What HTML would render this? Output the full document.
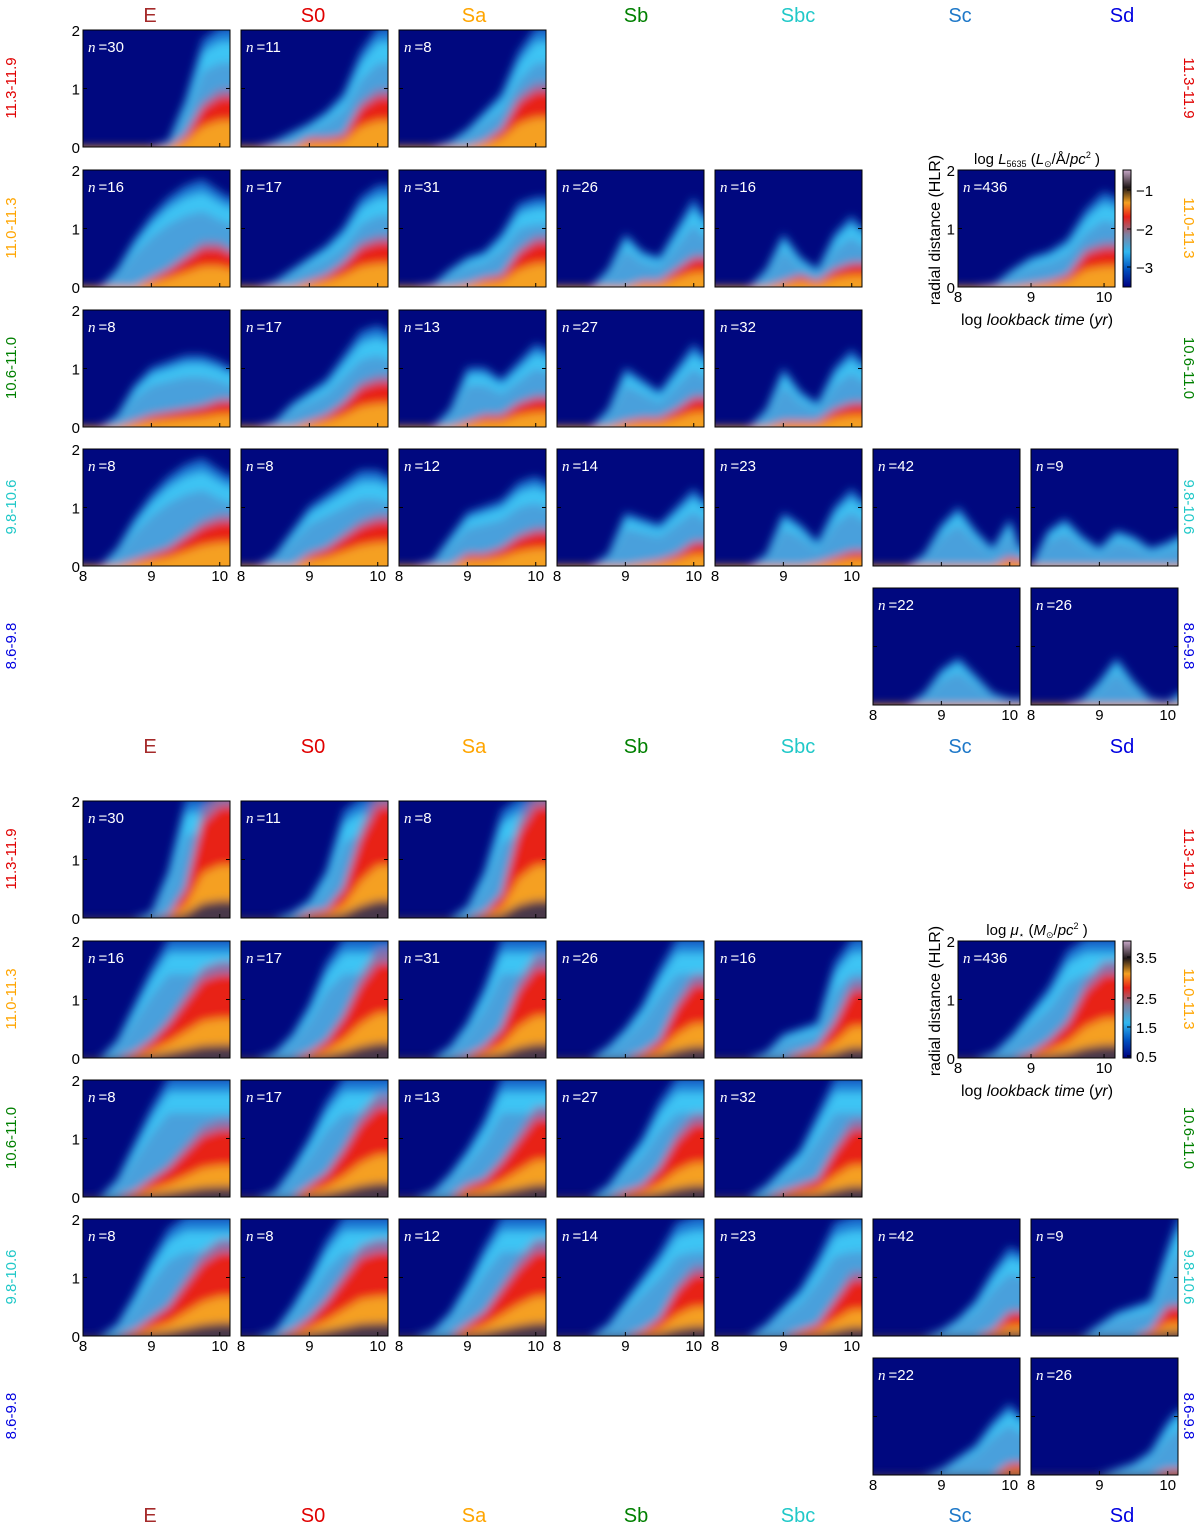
<!DOCTYPE html>
<html><head><meta charset="utf-8"><style>
body{margin:0;background:#fff}
svg text{font-family:"Liberation Sans",sans-serif}
</style></head><body>
<svg id="fig" width="1200" height="1526" xmlns="http://www.w3.org/2000/svg">
<defs>
<filter id="blur" x="-20%" y="-20%" width="140%" height="140%"><feGaussianBlur stdDeviation="4.5"/></filter>
<linearGradient id="cbL" x1="0" y1="1" x2="0" y2="0">
<stop offset="0" stop-color="#00007f"/><stop offset="0.15" stop-color="#0050c0"/><stop offset="0.3" stop-color="#30b8f0"/><stop offset="0.45" stop-color="#8080a0"/><stop offset="0.6" stop-color="#e82018"/><stop offset="0.72" stop-color="#f5a020"/><stop offset="0.85" stop-color="#201818"/><stop offset="1" stop-color="#c8a8c8"/></linearGradient>
</defs>
</svg>
<script>
const tGrid=[8,8.25,8.5,8.75,9,9.25,9.5,9.75,10,10.15];
const colNames=["E","S0","Sa","Sb","Sbc","Sc","Sd"];
const rowNames=["11.3-11.9","11.0-11.3","10.6-11.0","9.8-10.6","8.6-9.8"];
const cells=[[0,0],[0,1],[0,2],[1,0],[1,1],[1,2],[1,3],[1,4],[2,0],[2,1],[2,2],[2,3],[2,4],[3,0],[3,1],[3,2],[3,3],[3,4],[3,5],[3,6],[4,5],[4,6]];
const counts=[30,11,8,16,17,31,26,16,8,17,13,27,32,8,8,12,14,23,42,9,22,26];
const lumOuter=[
[0,0,0,0,0,0.1,0.8,1.8,2,2],[0,0,0.1,0.25,0.4,0.6,0.9,1.6,2,2],[0,0,0,0.1,0.3,0.6,0.9,1.6,2,2],
[0,0,0.3,0.8,1.2,1.5,1.7,1.8,1.6,1.5],[0,0,0.1,0.3,0.5,0.7,1,1.5,1.7,1.7],[0,0,0.05,0.3,0.5,0.6,0.9,1.4,1.5,1.5],[0,0,0,0.3,0.9,0.6,0.5,1,1.5,1.2],[0,0,0,0.3,0.9,0.5,0.3,0.9,1.2,1],
[0,0,0.2,0.7,1,1.1,1.2,1.2,1.1,1],[0,0,0.1,0.4,0.6,0.8,1.2,1.6,1.7,1.6],[0,0,0,0.3,1,1,0.8,1.1,1.4,1.3],[0,0,0,0.3,1,0.8,0.6,1,1.4,1.2],[0,0,0,0.3,1,0.6,0.4,1,1.3,1.1],
[0,0,0.3,0.8,1.2,1.5,1.7,1.8,1.6,1.5],[0,0,0.2,0.6,1,1.2,1.4,1.6,1.6,1.5],[0,0,0.1,0.5,0.9,1,1.1,1.4,1.5,1.4],[0,0,0,0.2,0.9,0.8,0.7,1,1.3,1.1],[0,0,0,0.2,0.9,0.7,0.4,1,1.3,1.1],[0,0,0,0.2,0.7,1,0.6,0.3,0.8,0.3],[0,0.6,0.8,0.5,0.3,0.6,0.5,0.3,0.4,0.5],
[0,0,0,0.2,0.6,0.8,0.5,0.2,0.1,0.1],[0,0,0,0.1,0.4,0.8,0.4,0.1,0.05,0.2]];
const lumCore=[
[0,0,0,0,0,0,0.2,0.7,0.9,0.9],[0,0,0,0,0.15,0.15,0.2,0.7,0.9,0.9],[0,0,0,0,0,0.1,0.3,0.8,1,1],
[0,0,0,0,0.15,0.3,0.5,0.7,0.7,0.6],[0,0,0,0,0.1,0.2,0.4,0.7,0.8,0.8],[0,0,0,0,0.05,0.15,0.2,0.6,0.8,0.8],[0,0,0,0,0,0.1,0.1,0.3,0.5,0.5],[0,0,0,0,0.1,0.2,0.1,0.3,0.4,0.4],
[0,0,0,0.1,0.2,0.25,0.3,0.35,0.45,0.45],[0,0,0,0,0.1,0.2,0.4,0.7,0.8,0.8],[0,0,0,0,0.1,0.2,0.2,0.4,0.5,0.5],[0,0,0,0,0.1,0.15,0.15,0.3,0.5,0.5],[0,0,0,0,0.1,0.1,0.1,0.3,0.4,0.4],
[0,0,0,0.1,0.2,0.3,0.5,0.7,0.8,0.8],[0,0,0,0,0.2,0.3,0.5,0.7,0.8,0.8],[0,0,0,0,0.2,0.2,0.3,0.5,0.6,0.6],[0,0,0,0,0,0.05,0.1,0.2,0.4,0.4],[0,0,0,0,0,0,0.05,0.15,0.25,0.25],[0,0,0,0,0,0,0,0,0.15,0.1],[0,0,0,0,0,0,0,0,0,0],
[0,0,0,0,0,0,0,0,0,0],[0,0,0,0,0,0,0,0,0,0]];
const massOuter=[
[0,0,0,0,0.1,0.8,2,2,2,2],[0,0,0,0.1,0.3,0.8,1.8,2,2,2],[0,0,0,0,0.2,0.8,1.8,2,2,2],
[0,0,0.3,0.9,1.5,2,2,2,2,2],[0,0,0.1,0.4,0.9,1.6,2,2,2,2],[0,0,0,0.2,0.6,1.2,2,2,2,2],[0,0,0,0.2,0.5,0.9,1.5,2,2,2],[0,0,0,0.1,0.4,0.5,0.6,1.6,2,2],
[0,0,0.3,0.9,1.5,2,2,2,2,2],[0,0,0.1,0.5,1,1.6,2,2,2,2],[0,0,0.1,0.4,0.8,1.3,2,2,2,2],[0,0,0,0.2,0.6,1,1.6,2,2,2],[0,0,0,0.2,0.5,0.8,1.4,2,2,2],
[0,0,0.2,0.7,1.3,1.8,2,2,2,2],[0,0,0.1,0.5,1,1.6,2,2,2,2],[0,0,0.1,0.4,0.9,1.5,2,2,2,2],[0,0,0,0.2,0.6,1,1.4,1.9,2,2],[0,0,0,0.2,0.5,0.8,1.3,1.9,2,2],[0,0,0,0,0.1,0.3,0.6,1.1,1.5,1.4],[0,0,0,0,0.2,0.4,0.5,0.6,1.5,2],
[0,0,0,0,0.1,0.3,0.5,0.9,1.2,1],[0,0,0,0,0,0.1,0.2,0.4,0.9,1.1]];
const massCore=[
[0,0,0,0,0,0.05,0.5,1.7,2,2],[0,0,0,0,0.1,0.15,0.5,1.4,2,2],[0,0,0,0,0,0.1,0.4,1.5,2,2],
[0,0,0,0.1,0.3,0.6,1,1.4,1.5,1.5],[0,0,0,0,0.1,0.3,0.7,1.3,1.7,1.7],[0,0,0,0,0.05,0.2,0.5,1.2,1.6,1.6],[0,0,0,0,0,0.1,0.3,0.9,1.3,1.3],[0,0,0,0,0,0.1,0.2,0.6,1.2,1.2],
[0,0,0,0.1,0.3,0.5,0.8,1.1,1.2,1.2],[0,0,0,0,0.2,0.4,0.8,1.3,1.6,1.6],[0,0,0,0,0.2,0.3,0.6,1,1.4,1.4],[0,0,0,0,0.1,0.2,0.5,1,1.3,1.3],[0,0,0,0,0.1,0.2,0.3,0.8,1.2,1.2],
[0,0,0,0.1,0.3,0.5,0.9,1.3,1.5,1.5],[0,0,0,0.1,0.3,0.6,1,1.4,1.5,1.5],[0,0,0,0,0.2,0.4,0.8,1.2,1.5,1.5],[0,0,0,0,0,0.1,0.3,0.8,1.1,1.1],[0,0,0,0,0,0.1,0.2,0.6,1,1],[0,0,0,0,0,0,0,0.1,0.4,0.4],[0,0,0,0,0,0,0,0.1,0.5,0.5],
[0,0,0,0,0,0,0,0,0.2,0.2],[0,0,0,0,0,0,0,0,0.1,0.1]];
const insetLumOuter=[0,0,0.05,0.3,0.5,0.6,0.8,1.3,1.6,1.5];
const insetLumCore=[0,0,0,0,0.05,0.1,0.2,0.6,0.7,0.7];
const insetMassOuter=[0,0,0.1,0.4,0.8,1.2,1.8,2,2,2];
const insetMassCore=[0,0,0,0,0.1,0.3,0.6,1.2,1.5,1.5];
const colX=[83,241,399,557,715,873,1031];
const titleX=[150,313,474,636,798,960,1122];
const rowColors=["#e00000","#ffa500","#008000","#20c8c8","#0000e0"];
const colColors=["#a52a2a","#e00000","#ffa500","#008000","#20c8c8","#1e78c8","#0000e0"];
const svg=document.getElementById('fig');
const NS="http://www.w3.org/2000/svg";
let clipId=0;
function mk(tag,attrs,parent){const e=document.createElementNS(NS,tag);for(const k in attrs)e.setAttribute(k,attrs[k]);(parent||svg).appendChild(e);return e;}
function txt(s,x,y,attrs,parent){const t=mk('text',Object.assign({x:x,y:y},attrs),parent);t.textContent=s;return t;}
function drawPanel(px,py,w,h,outer,core,n,mass,name){
  const xs=t=>px+(t-8)/(10.15-8)*w;
  const ys=r=>py+h-r/2*h;
  const g=mk('g',{});
  
  
  const id='c'+(clipId++);
  const cp=mk('clipPath',{id:id},g);mk('rect',{x:px,y:py,width:w,height:h},cp);
  const inner=mk('g',{'clip-path':'url(#'+id+')'},g);
  mk('rect',{x:px,y:py,width:w,height:h,fill:'#00087f'},inner);
  const blurG=mk('g',{filter:'url(#blur)'},inner);
  function area(arr,scale,fill,nm){
    let d='M'+(px-10)+','+(py+h+10);
    d+=' L'+(px-10)+','+ys(arr[0]*scale);
    tGrid.forEach((t,i)=>{d+=' L'+xs(t)+','+ys(arr[i]*scale);});
    d+=' L'+(px+w+10)+','+ys(arr[arr.length-1]*scale)+' L'+(px+w+10)+','+(py+h+10)+'Z';
    const p=mk('path',{d:d,fill:fill},blurG);
    
    
  }
  area(outer,1.02,'#1a78d4','outer-level');
  area(outer,0.9,'#3cc4f4','cyan-level');
  area(outer,0.72,'#48a0dc','mid-level');
  area(core,1.1,'#8a70a8','transition-level');
  area(core,0.95,'#e82418','red-level');
  area(core,mass?0.45:0.5,'#f5a020','orange-level');
  if(mass) area(core,0.15,'#4a3848','dark-level');
  mk('rect',{x:px,y:py,width:w,height:h,fill:'none',stroke:'#000','stroke-width':1},g);
  [0,1,2].forEach(r=>{mk('line',{x1:px,x2:px+4,y1:ys(r),y2:ys(r),stroke:'#000'},g);mk('line',{x1:px+w-4,x2:px+w,y1:ys(r),y2:ys(r),stroke:'#000'},g);});
  [8,9,10].forEach(t=>{mk('line',{x1:xs(t),x2:xs(t),y1:py+h,y2:py+h-4,stroke:'#000'},g);});
  const nt=mk('text',{x:px+5,y:py+22,fill:'#fff','font-size':15},g);
  const a=document.createElementNS(NS,'tspan');a.setAttribute('font-style','italic');a.setAttribute('font-family','Liberation Serif, serif');a.textContent='n';nt.appendChild(a);
  const b=document.createElementNS(NS,'tspan');b.textContent='\u2009='+n;nt.appendChild(b);
  
  
  return {xs,ys,g};
}
function figure(rowTops,titleYs,outerArr,coreArr,mass){
  titleYs.forEach(ty=>colNames.forEach((c,i)=>{const t=txt(c,titleX[i],ty,{'font-size':20,fill:colColors[i],'text-anchor':'middle'});
    
    }));
  rowNames.forEach((r,i)=>{const cy=rowTops[i]+58;
    const l=txt(r,0,0,{'font-size':15,fill:rowColors[i],'text-anchor':'middle',transform:'translate(16,'+cy+') rotate(-90)'});
    
    
    const rr=txt(r,0,0,{'font-size':15,fill:rowColors[i],'text-anchor':'middle',transform:'translate(1184,'+cy+') rotate(90)'});
    
    });
  cells.forEach((c,k)=>{
    const px=colX[c[1]],py=rowTops[c[0]];
    const p=drawPanel(px,py,147,117,outerArr[k],coreArr[k],counts[k],mass,'panel-'+colNames[c[1]].toLowerCase()+'-row'+c[0]);
    if(c[1]===0)['0','1','2'].forEach((s,i)=>txt(s,px-3,p.ys(i)+6,{'font-size':15,'text-anchor':'end'}));
    if(c[0]===4||(c[0]===3&&c[1]<5))['8','9','10'].forEach((s,i)=>txt(s,p.xs(8+i),py+117+15,{'font-size':15,'text-anchor':'middle'}));
  });
}
function inset(py,oArr,cArr,mass,titleParts,ticks){
  const px=958,w=157,h=117;
  const p=drawPanel(px,py,w,h,oArr,cArr,436,mass,'summary-panel');
  ['0','1','2'].forEach((s,i)=>txt(s,px-3,p.ys(i)+6,{'font-size':15,'text-anchor':'end'}));
  ['8','9','10'].forEach((s,i)=>txt(s,p.xs(8+i),py+h+15,{'font-size':15,'text-anchor':'middle'}));
  const yl=txt('radial distance (HLR)',0,0,{'font-size':16,'text-anchor':'middle',transform:'translate(940,'+(py+60)+') rotate(-90)'});
  
  
  const xl=txt('log ',1037,py+h+38,{'font-size':16,'text-anchor':'middle','font-family':'Liberation Serif, serif'});
  xl.innerHTML='log <tspan font-style="italic">lookback time</tspan> (<tspan font-style="italic">yr</tspan>)';
  
  
  const tt=txt('',1037,py-6,{'font-size':15,'text-anchor':'middle','font-family':'Liberation Serif, serif'});
  tt.innerHTML=titleParts;
  
  
  const cb=mk('rect',{x:1123,y:py,width:8,height:h,fill:'url(#cbL)',stroke:'#000'});
  
  
  ticks.forEach(tk=>{mk('line',{x1:1127,x2:1131,y1:py+tk[1],y2:py+tk[1],stroke:'#000'});txt(tk[0],1136,py+tk[1]+6,{'font-size':15});});
}
figure([30,170,310,449,588],[22,753],lumOuter,lumCore,false);
figure([801,941,1080,1219,1358],[1522],massOuter,massCore,true);
inset(170,insetLumOuter,insetLumCore,false,'log <tspan font-style="italic">L</tspan><tspan font-size="9" dy="3">5635</tspan><tspan dy="-3"> (</tspan><tspan font-style="italic">L</tspan><tspan font-size="9" dy="3">⊙</tspan><tspan dy="-3">/Å/</tspan><tspan font-style="italic">pc</tspan><tspan font-size="9" dy="-6">2</tspan><tspan dy="6"> )</tspan>',[['\u22121',20],['\u22122',59],['\u22123',97]]);
inset(941,insetMassOuter,insetMassCore,true,'log <tspan font-style="italic">μ</tspan><tspan font-size="9" dy="3">⋆</tspan><tspan dy="-3"> (</tspan><tspan font-style="italic">M</tspan><tspan font-size="9" dy="3">⊙</tspan><tspan dy="-3">/</tspan><tspan font-style="italic">pc</tspan><tspan font-size="9" dy="-6">2</tspan><tspan dy="6"> )</tspan>',[['3.5',16],['2.5',57],['1.5',86],['0.5',115]]);
</script>
</body></html>
